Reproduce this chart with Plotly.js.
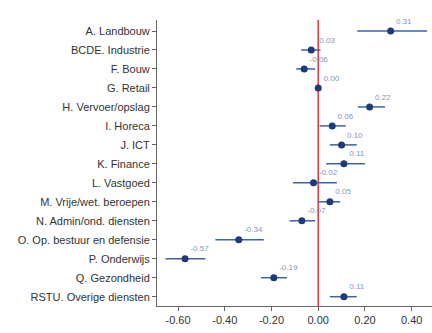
<!DOCTYPE html>
<html>
<head>
<meta charset="utf-8">
<script src="https://cdn.plot.ly/plotly-3.0.1.min.js"></script>
<style>html,body{margin:0;padding:0;background:#fff;}#chart{width:432px;height:333px;}</style>
</head>
<body>
<div id="chart"></div>
<script>
var categories = ["A. Landbouw","BCDE. Industrie","F. Bouw","G. Retail","H. Vervoer/opslag","I. Horeca","J. ICT","K. Finance","L. Vastgoed","M. Vrije/wet. beroepen","N. Admin/ond. diensten","O. Op. bestuur en defensie","P. Onderwijs","Q. Gezondheid","RSTU. Overige diensten"];
var estimates = [0.31, -0.03, -0.06, 0.00, 0.22, 0.06, 0.10, 0.11, -0.02, 0.05, -0.07, -0.34, -0.57, -0.19, 0.11];
var ciLow  = [0.167, -0.073, -0.094, -0.005, 0.17, 0.006, 0.05, 0.034, -0.108, 0.0, -0.123, -0.44, -0.654, -0.245, 0.05];
var ciHigh = [0.466, 0.01, -0.013, 0.005, 0.286, 0.118, 0.165, 0.2, 0.08, 0.094, -0.013, -0.233, -0.483, -0.134, 0.165];
var xTickVals = [-0.6, -0.4, -0.2, 0, 0.2, 0.4];
var xTickText = ["-0.60", "-0.40", "-0.20", "0.00", "0.20", "0.40"];

var plus = estimates.map(function(v, i){ return ciHigh[i] - v; });
var minus = estimates.map(function(v, i){ return v - ciLow[i]; });
var labels = estimates.map(function(v){ return v.toFixed(2); });

var trace = {
  type: "scatter",
  mode: "markers+text",
  x: estimates,
  y: categories,
  text: labels,
  textposition: "top right",
  textfont: {family: "Liberation Sans, Arial, sans-serif", size: 8, color: "#8596c2"},
  marker: {size: 7, color: "#1c3b78"},
  error_x: {type: "data", symmetric: false, array: plus, arrayminus: minus, color: "#3d62a8", thickness: 1.5, width: 0},
  cliponaxis: false,
  hoverinfo: "none"
};

var layout = {
  width: 432, height: 333,
  margin: {l: 157, r: 0, t: 20, b: 27},
  paper_bgcolor: "#fff", plot_bgcolor: "#fff",
  showlegend: false,
  font: {family: "Liberation Sans, Arial, sans-serif", size: 11, color: "#333"},
  xaxis: {
    range: [-0.69, 0.487],
    tickvals: xTickVals, ticktext: xTickText,
    showgrid: false, zeroline: false,
    showline: true, linecolor: "#666", linewidth: 1,
    ticks: "outside", ticklen: 4, tickcolor: "#666",
    tickfont: {size: 11, color: "#333"}
  },
  yaxis: {
    type: "category",
    range: [14.49, -0.58],
    showgrid: false, zeroline: false,
    showline: true, linecolor: "#666", linewidth: 1,
    ticks: "outside", ticklen: 4, tickcolor: "#666",
    tickfont: {size: 11, color: "#333"}
  },
  shapes: [{type: "line", xref: "x", yref: "paper", x0: 0, x1: 0, y0: 0, y1: 1, line: {color: "#e8333a", width: 1.5}, layer: "below"}]
};

Plotly.newPlot("chart", [trace], layout, {displayModeBar: false, staticPlot: true});
</script>
</body>
</html>
